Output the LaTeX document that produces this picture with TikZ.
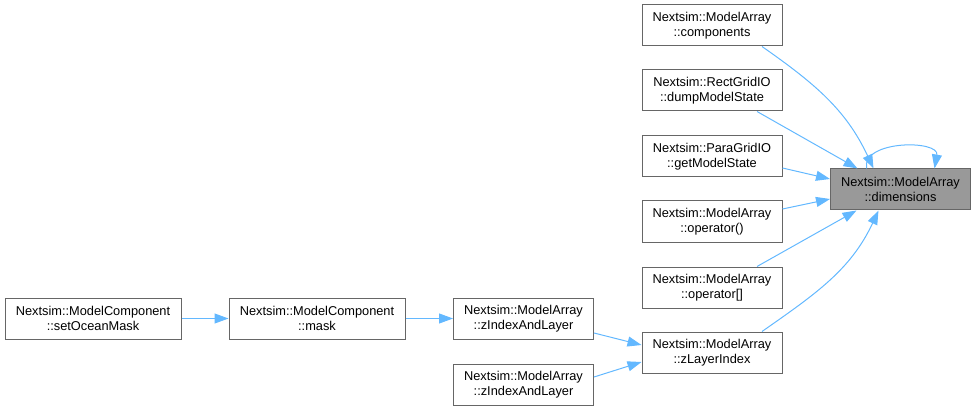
\documentclass[tikz,border=0pt]{standalone}
\usepackage{fontspec}
\setmainfont{Liberation Sans}
\usetikzlibrary{arrows.meta,calc}
\definecolor{edgeblue}{HTML}{63B8FF}
\definecolor{boxgray}{HTML}{666666}
\definecolor{hlgray}{HTML}{999999}

\begin{document}
\begin{tikzpicture}[x=1pt,y=1pt,>={Triangle[length=14pt,width=10pt]},font=\fontsize{12.8}{14.5}\selectfont,
  box/.style={draw=boxgray,line width=1pt,fill=white,align=center,inner sep=0pt,minimum width=140pt,minimum height=41pt},
  widebox/.style={box,minimum width=176pt},
  hlbox/.style={box,fill=hlgray},
  arr/.style={->,draw=edgeblue,line width=1pt}]
  \useasboundingbox (0,0) rectangle (976,410);
  % chiamanti
  \node[box] (comp) at (712,384.5) {Nextsim::ModelArray\\::components};
  \node[box] (dump) at (712,319.5) {Nextsim::RectGridIO\\::dumpModelState};
  \node[box] (getms) at (712,253.5) {Nextsim::ParaGridIO\\::getModelState};
  \node[box] (oppar) at (712,188.5) {Nextsim::ModelArray\\::operator()};
  \node[box] (opbra) at (712,122.5) {Nextsim::ModelArray\\::operator[]};
  \node[box] (zli) at (712,57.5) {Nextsim::ModelArray\\::zLayerIndex};
  \node[box] (zialA) at (523.5,91.5) {Nextsim::ModelArray\\::zIndexAndLayer};
  \node[box] (zialB) at (523.5,25.5) {Nextsim::ModelArray\\::zIndexAndLayer};
  \node[widebox] (mask) at (317,91.5) {Nextsim::ModelComponent\\::mask};
  \node[widebox] (setom) at (93,91.5) {Nextsim::ModelComponent\\::setOceanMask};
  % funzione evidenziata
  \node[hlbox] (dim) at (900.5,220.5) {Nextsim::ModelArray\\::dimensions};
  % archi
  \draw[arr] ([xshift=50pt]comp.south) to[out=-35,in=115] ([xshift=-27pt]dim.north);
  \draw[arr] ([xshift=45pt]dump.south) -- ([xshift=-43pt]dim.north);
  \draw[arr] ([yshift=-11.5pt]getms.east) -- ([yshift=10.5pt]dim.west);
  \draw[arr] ([yshift=12.5pt]oppar.east) -- ([yshift=-9.5pt]dim.west);
  \draw[arr] ([xshift=45pt]opbra.north) -- ([xshift=-44pt]dim.south);
  \draw[arr] ([xshift=50pt]zli.north) to[out=35,in=-115] ([xshift=-22pt]dim.south);
  \draw[arr] ([xshift=-34pt]dim.north) to[out=100,in=80,looseness=1.1] ([xshift=34pt]dim.north);
  \draw[arr] (setom) -- (mask);
  \draw[arr] (mask) -- (zialA);
  \draw[arr] ([yshift=-14.5pt]zialA.east) -- ([yshift=7.5pt]zli.west);
  \draw[arr] ([yshift=7.5pt]zialB.east) -- ([yshift=-9.5pt]zli.west);
\end{tikzpicture}
\end{document}
